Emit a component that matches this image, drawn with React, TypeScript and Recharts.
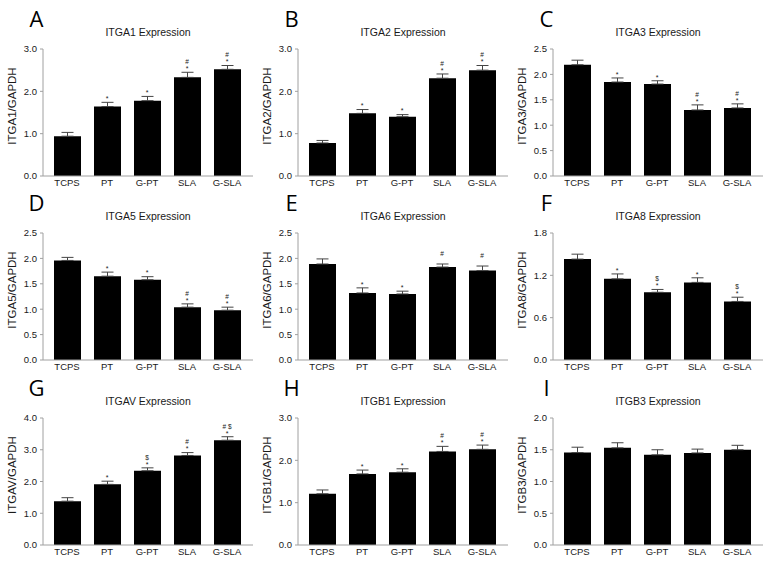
import { ComposedChart, Bar, Line, XAxis, YAxis, ErrorBar } from "recharts";

const groups = ["TCPS", "PT", "G-PT", "SLA", "G-SLA"];

// mean / upper SEM / significance marks ("*" next to the bar, "#" / "$" stacked above it)
const itga1Mean = [0.94, 1.64, 1.78, 2.33, 2.52];
const itga1Err = [0.09, 0.1, 0.1, 0.12, 0.09];
const itga1Star = ["", "*", "*", "*", "*"];
const itga1Top = ["", "", "", "#", "#"];

const itga2Mean = [0.78, 1.48, 1.4, 2.31, 2.5];
const itga2Err = [0.06, 0.09, 0.05, 0.1, 0.11];
const itga2Star = ["", "*", "*", "*", "*"];
const itga2Top = ["", "", "", "#", "#"];

const itga3Mean = [2.19, 1.85, 1.81, 1.3, 1.34];
const itga3Err = [0.09, 0.08, 0.065, 0.1, 0.08];
const itga3Star = ["", "*", "*", "*", "*"];
const itga3Top = ["", "", "", "#", "#"];

const itga5Mean = [1.96, 1.65, 1.58, 1.04, 0.98];
const itga5Err = [0.06, 0.08, 0.06, 0.065, 0.06];
const itga5Star = ["", "*", "*", "*", "*"];
const itga5Top = ["", "", "", "#", "#"];

const itga6Mean = [1.89, 1.32, 1.3, 1.83, 1.76];
const itga6Err = [0.1, 0.1, 0.055, 0.06, 0.09];
const itga6Star = ["", "*", "*", "", ""];
const itga6Top = ["", "", "", "#", "#"];

const itga8Mean = [1.43, 1.15, 0.96, 1.1, 0.83];
const itga8Err = [0.07, 0.07, 0.04, 0.065, 0.06];
const itga8Star = ["", "*", "*", "*", "*"];
const itga8Top = ["", "", "$", "", "$"];

const itgavMean = [1.38, 1.91, 2.34, 2.82, 3.3];
const itgavErr = [0.11, 0.1, 0.09, 0.09, 0.11];
const itgavStar = ["", "*", "*", "*", "*"];
const itgavTop = ["", "", "$", "#", "# $"];

const itgb1Mean = [1.21, 1.68, 1.72, 2.21, 2.26];
const itgb1Err = [0.09, 0.09, 0.08, 0.12, 0.1];
const itgb1Star = ["", "*", "*", "*", "*"];
const itgb1Top = ["", "", "", "#", "#"];

const itgb3Mean = [1.455, 1.53, 1.42, 1.45, 1.5];
const itgb3Err = [0.085, 0.08, 0.08, 0.06, 0.07];
const itgb3Star = ["", "", "", "", ""];
const itgb3Top = ["", "", "", "", ""];

const ticks30 = [0, 1, 2, 3];
const ticks25 = [0, 0.5, 1, 1.5, 2, 2.5];
const ticks18 = [0, 0.6, 1.2, 1.8];
const ticks40 = [0, 1, 2, 3, 4];
const ticks20 = [0, 0.5, 1, 1.5, 2];

const panels = [
  { letter: "A", gene: "ITGA1", mean: itga1Mean, err: itga1Err, star: itga1Star, top: itga1Top, ticks: ticks30 },
  { letter: "B", gene: "ITGA2", mean: itga2Mean, err: itga2Err, star: itga2Star, top: itga2Top, ticks: ticks30 },
  { letter: "C", gene: "ITGA3", mean: itga3Mean, err: itga3Err, star: itga3Star, top: itga3Top, ticks: ticks25 },
  { letter: "D", gene: "ITGA5", mean: itga5Mean, err: itga5Err, star: itga5Star, top: itga5Top, ticks: ticks25 },
  { letter: "E", gene: "ITGA6", mean: itga6Mean, err: itga6Err, star: itga6Star, top: itga6Top, ticks: ticks25 },
  { letter: "F", gene: "ITGA8", mean: itga8Mean, err: itga8Err, star: itga8Star, top: itga8Top, ticks: ticks18 },
  { letter: "G", gene: "ITGAV", mean: itgavMean, err: itgavErr, star: itgavStar, top: itgavTop, ticks: ticks40 },
  { letter: "H", gene: "ITGB1", mean: itgb1Mean, err: itgb1Err, star: itgb1Star, top: itgb1Top, ticks: ticks30 },
  { letter: "I", gene: "ITGB3", mean: itgb3Mean, err: itgb3Err, star: itgb3Star, top: itgb3Top, ticks: ticks20 },
];

const colX = [0, 255, 510];
const rowY = [0, 184, 369];
const FONT = "'Liberation Sans', Arial, sans-serif";
const FRAME = "#a0a0a0";
const INK = "#1a1a1a";

type PanelDef = (typeof panels)[number];

const GroupTick = (props: any) => {
  const { x, y, payload } = props;
  return (
    <text x={x} y={y + 8} textAnchor="middle" fontSize={9.5} fill={INK} fontFamily={FONT}>
      {payload.value}
    </text>
  );
};

function Panel({ p, left, top }: { p: PanelDef; left: number; top: number }) {
  const data = groups.map((g, i) => ({
    group: g,
    mean: p.mean[i],
    err: [0, p.err[i]],
    tip: p.mean[i] + p.err[i],
  }));
  const yMax = p.ticks[p.ticks.length - 1];

  const renderMarks = (props: any) => {
    const { cx, cy, index } = props;
    if (cx == null || cy == null) return <g key={`m-${index}`} />;
    return (
      <g key={`m-${index}`}>
        {p.star[index] && (
          <text x={cx} y={cy - 1.2} textAnchor="middle" fontSize={7} fill={INK} fontFamily={FONT}>
            {p.star[index]}
          </text>
        )}
        {p.top[index] && (
          <text x={cx} y={cy - 8.2} textAnchor="middle" fontSize={6.5} fill={INK} fontFamily={FONT}>
            {p.top[index]}
          </text>
        )}
      </g>
    );
  };

  return (
    <div style={{ position: "absolute", left, top, width: 255, height: 200 }}>
      <ComposedChart width={255} height={200} data={data} margin={{ top: 49, right: 2, bottom: 0, left: 0 }}>
        <XAxis
          dataKey="group"
          interval={0}
          tickLine={false}
          tickSize={0}
          height={24}
          padding={{ left: 4, right: 6 }}
          axisLine={{ stroke: FRAME }}
          tick={<GroupTick />}
        />
        <XAxis xAxisId="top" orientation="top" dataKey="group" tick={false} tickLine={false} height={0} axisLine={{ stroke: FRAME }} />
        <YAxis
          domain={[0, yMax]}
          ticks={p.ticks}
          interval={0}
          tickFormatter={(v: number) => v.toFixed(1)}
          width={43}
          tickSize={3}
          tickMargin={3}
          axisLine={{ stroke: FRAME }}
          tickLine={{ stroke: FRAME }}
          tick={{ fontSize: 9.5, fill: INK, fontFamily: FONT }}
        />
        <YAxis yAxisId="right" orientation="right" tick={false} tickLine={false} width={0} axisLine={{ stroke: FRAME }} />
        <Bar dataKey="mean" fill="#000" barSize={27} isAnimationActive={false}>
          <ErrorBar dataKey="err" width={6} stroke="#444" strokeWidth={1} direction="y" />
        </Bar>
        <Line dataKey="tip" stroke="none" dot={renderMarks} activeDot={false} legendType="none" isAnimationActive={false} />
      </ComposedChart>
      <svg width={255} height={200} style={{ position: "absolute", left: 0, top: 0, pointerEvents: "none" }}>
        <text x={36.5} y={26.5} textAnchor="middle" fontSize={22} fill="#000" fontFamily="'Open Sans', sans-serif">
          {p.letter}
        </text>
        <text x={148} y={36} textAnchor="middle" fontSize={10.5} fill={INK} fontFamily={FONT}>
          {p.gene} Expression
        </text>
        <text
          transform={`translate(16, 106) rotate(-90)`}
          textAnchor="middle"
          fontSize={11.5}
          fill={INK}
          fontFamily={FONT}
        >
          {p.gene}/GAPDH
        </text>
      </svg>
    </div>
  );
}

export default function App() {
  return (
    <div
      style={{
        position: "absolute",
        left: 0,
        top: 0,
        width: 771,
        height: 567,
        background: "#fff",
        overflow: "hidden",
      }}
    >
      {panels.map((p, i) => (
        <Panel key={p.letter} p={p} left={colX[i % 3]} top={rowY[Math.floor(i / 3)]} />
      ))}
    </div>
  );
}
